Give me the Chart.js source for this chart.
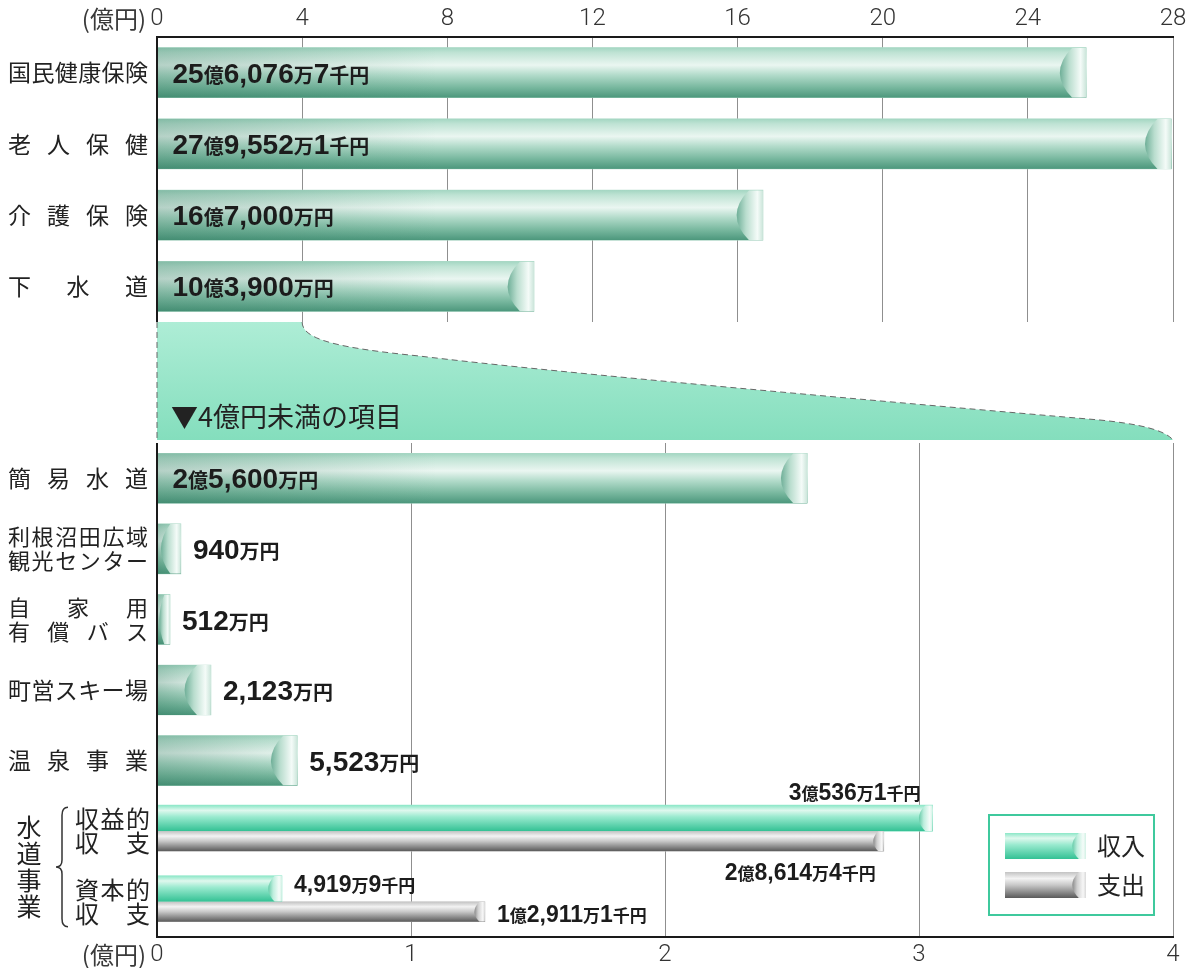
<!DOCTYPE html>
<html lang="ja">
<head>
<meta charset="utf-8">
<title>特別会計の決算額</title>
<script src="https://cdn.jsdelivr.net/npm/chart.js@4.4.1/dist/chart.umd.min.js"></script>
<style>
  html, body { margin: 0; padding: 0; background: #fff; }
  #wrap { position: relative; width: 1195px; height: 968px; }
  #topBox { position: absolute; left: 0; top: 0; width: 1195px; height: 322px; }
  #subBox { position: absolute; left: 0; top: 322px; width: 1195px; height: 646px; }
</style>
</head>
<body>
<div id="wrap">
  <div id="topBox"><canvas id="topChart"></canvas></div>
  <div id="subBox"><canvas id="subChart"></canvas></div>
</div>
<script>
// upper panel (億円)
var topCategories = [['国民健康保険'], ['老人保健'], ['介護保険'], ['下水道']];
var topValues = [25.60767, 27.95521, 16.7, 10.39];
var topValueLabels = ['25億6,076万7千円', '27億9,552万1千円', '16億7,000万円', '10億3,900万円'];
var topTicks = [0, 4, 8, 12, 16, 20, 24, 28];

// lower panel: items under 4億円
var subCategories = [['簡易水道'], ['利根沼田広域', '観光センター'], ['自家用', '有償バス'], ['町営スキー場'], ['温泉事業'], ['収益的', '収支'], ['資本的', '収支']];
var subValues = [2.56, 0.094, 0.0512, 0.2123, 0.5523, null, null];
var subValueLabels = ['2億5,600万円', '940万円', '512万円', '2,123万円', '5,523万円', null, null];
var incomeValues = [null, null, null, null, null, 3.05361, 0.491999];
var incomeLabels = [null, null, null, null, null, '3億536万1千円', '4,919万9千円'];
var expenseValues = [null, null, null, null, null, 2.86144, 1.29111];
var expenseLabels = [null, null, null, null, null, '2億8,614万4千円', '1億2,911万1千円'];
var subTicks = [0, 1, 2, 3, 4];
var groupRows = [5, 6];
var groupTitle = '水道事業';
var seriesNames = ['収入', '支出'];
var subTitle = '▼4億円未満の項目';
var unitText = '(億円)';

var JP = '"Noto Sans CJK JP", "Noto Sans", sans-serif';
var NUM = '"Liberation Sans", Arial, sans-serif';

var palettes = {
  green: {
    body: [[0, '#a3d6c2'], [0.1, '#bfe3d4'], [0.35, '#eaf6f1'], [0.55, '#b2dbca'], [0.8, '#77b79e'], [1, '#4c977c']],
    shade: [45, 115, 90, 0.28],
    cap: ['#4a987d', '#b9ddce', '#f4fbf8', '#cbe5da']
  },
  mint: {
    body: [[0, '#8be7c7'], [0.2, '#dff8ee'], [0.45, '#9aeacf'], [1, '#33c194']],
    shade: null,
    cap: ['#3cb98e', '#bdeedd', '#f5fcf9', '#d2f1e5']
  },
  gray: {
    body: [[0, '#c3c3c3'], [0.25, '#f3f3f3'], [0.5, '#c8c8c8'], [1, '#5a5a5a']],
    shade: null,
    cap: ['#686868', '#cfcfcf', '#f7f7f7', '#d9d9d9']
  }
};

function paintBar(ctx, x0, x1, yT, yB, pal) {
  var w = x1 - x0, h = yB - yT;
  if (!(w > 0)) return;
  ctx.save();
  var g = ctx.createLinearGradient(0, yT, 0, yB);
  pal.body.forEach(function (s) { g.addColorStop(s[0], s[1]); });
  ctx.fillStyle = g;
  ctx.fillRect(x0, yT, w, h);
  if (pal.shade) {
    var sw = Math.min(w, 280), c = pal.shade;
    var hg = ctx.createLinearGradient(x0, 0, x0 + sw, 0);
    hg.addColorStop(0, 'rgba(' + c[0] + ',' + c[1] + ',' + c[2] + ',' + c[3] + ')');
    hg.addColorStop(1, 'rgba(' + c[0] + ',' + c[1] + ',' + c[2] + ',0)');
    ctx.fillStyle = hg;
    ctx.fillRect(x0, yT, sw, h);
  }
  // end cap of the tube
  var cw = Math.min(h * 0.62, w);
  var xa = x1 - cw;
  ctx.beginPath();
  ctx.rect(x0, yT, w, h);
  ctx.clip();
  ctx.beginPath();
  ctx.moveTo(x1, yT);
  ctx.lineTo(xa + cw * 0.55, yT);
  ctx.quadraticCurveTo(xa - cw * 0.25, (yT + yB) / 2, xa + cw * 0.55, yB);
  ctx.lineTo(x1, yB);
  ctx.closePath();
  var cg = ctx.createLinearGradient(xa, 0, x1, 0);
  cg.addColorStop(0, pal.cap[0]);
  cg.addColorStop(0.45, pal.cap[1]);
  cg.addColorStop(0.82, pal.cap[2]);
  cg.addColorStop(1, pal.cap[3]);
  ctx.fillStyle = cg;
  ctx.fill();
  ctx.restore();
}

function amountWidth(ctx, text, big, small) {
  var runs = text.match(/[0-9,]+|[^0-9,]+/g), total = 0;
  runs.forEach(function (r) {
    ctx.font = /[0-9,]/.test(r[0]) ? 'bold ' + big + 'px ' + NUM : 'bold ' + small + 'px ' + JP;
    total += ctx.measureText(r).width;
  });
  return total;
}

function drawAmount(ctx, text, x, y, align, big, small) {
  var runs = text.match(/[0-9,]+|[^0-9,]+/g);
  var total = amountWidth(ctx, text, big, small);
  var cx = align === 'right' ? x - total : x;
  ctx.save();
  ctx.fillStyle = '#1c1c1c';
  ctx.textAlign = 'left';
  ctx.textBaseline = 'alphabetic';
  var base = y + big * 0.36;
  runs.forEach(function (r) {
    ctx.font = /[0-9,]/.test(r[0]) ? 'bold ' + big + 'px ' + NUM : 'bold ' + small + 'px ' + JP;
    ctx.fillText(r, cx, base);
    cx += ctx.measureText(r).width;
  });
  ctx.restore();
}

function justify(ctx, text, x0, x1, y) {
  var chars = Array.from(text);
  var ws = chars.map(function (c) { return ctx.measureText(c).width; });
  var total = ws.reduce(function (a, b) { return a + b; }, 0);
  if (chars.length === 1) { ctx.fillText(text, x1 - total, y); return; }
  var gap = (x1 - x0 - total) / (chars.length - 1);
  var x = x0;
  chars.forEach(function (c, i) { ctx.fillText(c, x, y); x += ws[i] + gap; });
}

function drawCategoryLabels(chart, cats) {
  var ctx = chart.ctx, ys = chart.scales.y;
  ctx.save();
  ctx.fillStyle = '#222';
  ctx.textAlign = 'left';
  ctx.textBaseline = 'middle';
  cats.forEach(function (lines, i) {
    var yc = ys.getPixelForValue(i);
    var inGroup = groupRows.indexOf(i) >= 0 && cats === subCategories;
    var x0 = inGroup ? 75 : 8, x1 = inGroup ? 150 : 148;
    var size = inGroup ? 24 : (lines.length > 1 ? 22 : 23);
    ctx.font = size + 'px ' + JP;
    lines.forEach(function (line, k) {
      var y = yc + (k - (lines.length - 1) / 2) * 24;
      justify(ctx, line, x0, x1, y);
    });
  });
  ctx.restore();
}

function drawAxisFrame(chart, top, bottom) {
  var ctx = chart.ctx, a = chart.chartArea;
  ctx.save();
  ctx.strokeStyle = '#1a1a1a';
  ctx.lineWidth = 2;
  ctx.beginPath();
  ctx.moveTo(a.left, top);
  ctx.lineTo(a.left, bottom);
  ctx.stroke();
  ctx.restore();
}

function drawUnit(chart, y) {
  var ctx = chart.ctx;
  ctx.save();
  ctx.fillStyle = '#3a3a3a';
  ctx.font = '24px ' + JP;
  ctx.textAlign = 'right';
  ctx.textBaseline = 'middle';
  ctx.fillText(unitText, chart.chartArea.left - 11, y);
  ctx.restore();
}

var tickFont = { family: 'Roboto, "Liberation Sans", Arial, sans-serif', size: 24, weight: 300 };

var topPlugin = {
  id: 'topDeco',
  afterDatasetsDraw: function (chart) {
    var ctx = chart.ctx, meta = chart.getDatasetMeta(0);
    meta.data.forEach(function (el, j) {
      if (topValues[j] == null) return;
      paintBar(ctx, el.base, el.x, el.y - el.height / 2, el.y + el.height / 2, palettes.green);
      drawAmount(ctx, topValueLabels[j], el.base + 15, el.y, 'left', 28, 20);
    });
  },
  afterDraw: function (chart) {
    drawAxisFrame(chart, chart.chartArea.top - 1, chart.chartArea.bottom);
    drawCategoryLabels(chart, topCategories);
    drawUnit(chart, 19);
  }
};

function funnelPath(ctx, L, R, x4, yb, withEdges) {
  var W = R - L;
  function px(f) { return L + W * f; }
  ctx.beginPath();
  if (withEdges) { ctx.moveTo(L, 0); ctx.lineTo(x4, 0); } else { ctx.moveTo(x4, 0); }
  ctx.bezierCurveTo(x4, 18, px(0.18), 26, px(0.258), 34);
  ctx.bezierCurveTo(px(0.396), 51, px(0.731), 81, px(0.928), 98);
  ctx.bezierCurveTo(px(0.967), 102, px(0.992), 108, R, yb);
  if (withEdges) { ctx.lineTo(L, yb); ctx.closePath(); }
}

var subPlugin = {
  id: 'subDeco',
  beforeDraw: function (chart) {
    // funnel from the 4億円 line of the upper panel into the lower panel
    var ctx = chart.ctx, a = chart.chartArea;
    var L = a.left, R = a.right;
    var x4 = L + (R - L) * (topTicks[1] / topTicks[topTicks.length - 1]);
    var yb = a.top - 3;
    ctx.save();
    funnelPath(ctx, L, R, x4, yb, true);
    var g = ctx.createLinearGradient(0, 0, 0, yb);
    g.addColorStop(0, '#aeedd6');
    g.addColorStop(1, '#84debd');
    ctx.fillStyle = g;
    ctx.fill();
    ctx.strokeStyle = '#666';
    ctx.lineWidth = 1;
    ctx.setLineDash([6, 4]);
    funnelPath(ctx, L, R, x4, yb, false);
    ctx.stroke();
    ctx.beginPath();
    ctx.moveTo(L, 0);
    ctx.lineTo(L, yb);
    ctx.stroke();
    ctx.setLineDash([]);
    ctx.fillStyle = '#222';
    ctx.font = '27px ' + JP;
    ctx.textAlign = 'left';
    ctx.textBaseline = 'middle';
    ctx.fillText(subTitle, L + 14, 95);
    ctx.restore();
  },
  afterDatasetsDraw: function (chart) {
    var ctx = chart.ctx, a = chart.chartArea;
    var sets = [
      { values: subValues, labels: subValueLabels, pal: palettes.green },
      { values: incomeValues, labels: incomeLabels, pal: palettes.mint },
      { values: expenseValues, labels: expenseLabels, pal: palettes.gray }
    ];
    sets.forEach(function (s, di) {
      var meta = chart.getDatasetMeta(di);
      meta.data.forEach(function (el, j) {
        if (s.values[j] == null) return;
        paintBar(ctx, el.base, el.x, el.y - el.height / 2, el.y + el.height / 2, s.pal);
      });
    });
    sets.forEach(function (s, di) {
      var meta = chart.getDatasetMeta(di);
      meta.data.forEach(function (el, j) {
        if (s.values[j] == null || !s.labels[j]) return;
        var yT = el.y - el.height / 2, yB = el.y + el.height / 2;
        if (di === 0) {
          var w = amountWidth(ctx, s.labels[j], 28, 20);
          if (el.x - el.base > w + 40) drawAmount(ctx, s.labels[j], el.base + 15, el.y, 'left', 28, 20);
          else drawAmount(ctx, s.labels[j], el.x + 12, el.y, 'left', 28, 20);
        } else {
          var long = el.x > a.left + (a.right - a.left) * 0.6;
          if (long && di === 1) drawAmount(ctx, s.labels[j], el.x - 12, yT - 13, 'right', 23, 17);
          else if (long) drawAmount(ctx, s.labels[j], el.x - 8, yB + 21, 'right', 23, 17);
          else drawAmount(ctx, s.labels[j], el.x + 12, di === 1 ? el.y - 5 : el.y + 2, 'left', 23, 17);
        }
      });
    });
  },
  afterDraw: function (chart) {
    var ctx = chart.ctx, a = chart.chartArea, ys = chart.scales.y;
    drawAxisFrame(chart, a.top, a.bottom);
    drawCategoryLabels(chart, subCategories);
    drawUnit(chart, 633);

    // group title + brace
    var p0 = ys.getPixelForValue(groupRows[0]) - 24;
    var p1 = ys.getPixelForValue(groupRows[groupRows.length - 1]) + 25;
    var mid = (p0 + p1) / 2;
    ctx.save();
    ctx.fillStyle = '#222';
    ctx.font = '25px ' + JP;
    ctx.textAlign = 'center';
    ctx.textBaseline = 'middle';
    var chars = Array.from(groupTitle);
    chars.forEach(function (c, i) {
      ctx.fillText(c, 29, mid + (i - (chars.length - 1) / 2) * 26.5);
    });
    ctx.strokeStyle = '#333';
    ctx.lineWidth = 1.5;
    ctx.beginPath();
    ctx.moveTo(68, p0);
    ctx.quadraticCurveTo(62, p0, 62, p0 + 8);
    ctx.lineTo(62, mid - 7);
    ctx.quadraticCurveTo(62, mid, 56, mid);
    ctx.quadraticCurveTo(62, mid, 62, mid + 7);
    ctx.lineTo(62, p1 - 8);
    ctx.quadraticCurveTo(62, p1, 68, p1);
    ctx.stroke();

    // legend
    var bx = 989, by = 493, bw = 165, bh = 100;
    ctx.fillStyle = '#fff';
    ctx.fillRect(bx, by, bw, bh);
    ctx.strokeStyle = '#3fc99d';
    ctx.lineWidth = 2;
    ctx.strokeRect(bx, by, bw, bh);
    var pals = [palettes.mint, palettes.gray];
    seriesNames.forEach(function (name, i) {
      var sy = by + 18 + i * 39;
      paintBar(ctx, bx + 16, bx + 97, sy, sy + 26, pals[i]);
      ctx.fillStyle = '#222';
      ctx.font = '24px ' + JP;
      ctx.textAlign = 'left';
      ctx.textBaseline = 'middle';
      ctx.fillText(name, bx + 108, sy + 13);
    });
    ctx.restore();
  }
};

new Chart(document.getElementById('topChart'), {
  type: 'bar',
  data: {
    labels: topCategories.map(function (c) { return c.join(''); }),
    datasets: [{ data: topValues, backgroundColor: '#b2dbca', borderWidth: 0, barThickness: 50 }]
  },
  options: {
    indexAxis: 'y',
    responsive: true,
    maintainAspectRatio: false,
    animation: false,
    layout: { padding: { left: 157, right: 22, top: 0, bottom: 0 } },
    plugins: { legend: { display: false }, tooltip: { enabled: false } },
    scales: {
      x: {
        position: 'top',
        min: topTicks[0],
        max: topTicks[topTicks.length - 1],
        afterBuildTicks: function (s) { s.ticks = topTicks.map(function (v) { return { value: v }; }); },
        afterFit: function (s) { s.height = 37; },
        ticks: { color: '#333', font: tickFont, padding: 4, maxRotation: 0 },
        grid: { color: '#8f8f8f', lineWidth: 1, drawTicks: false },
        border: { color: '#1a1a1a', width: 2 }
      },
      y: { display: false }
    }
  },
  plugins: [topPlugin]
});

new Chart(document.getElementById('subChart'), {
  type: 'bar',
  data: {
    labels: subCategories.map(function (c) { return c.join(''); }),
    datasets: [
      { label: '', data: subValues, backgroundColor: '#b2dbca', borderWidth: 0, barThickness: 50, grouped: false },
      { label: seriesNames[0], data: incomeValues, backgroundColor: '#9aeacf', borderWidth: 0, barThickness: 26, skipNull: true },
      { label: seriesNames[1], data: expenseValues, backgroundColor: '#c8c8c8', borderWidth: 0, barThickness: 20, skipNull: true }
    ]
  },
  options: {
    indexAxis: 'y',
    responsive: true,
    maintainAspectRatio: false,
    animation: false,
    layout: { padding: { left: 157, right: 22, top: 121, bottom: 0 } },
    plugins: { legend: { display: false }, tooltip: { enabled: false } },
    scales: {
      x: {
        position: 'bottom',
        min: subTicks[0],
        max: subTicks[subTicks.length - 1],
        afterBuildTicks: function (s) { s.ticks = subTicks.map(function (v) { return { value: v }; }); },
        afterFit: function (s) { s.height = 31; },
        ticks: { color: '#333', font: tickFont, padding: 4, maxRotation: 0 },
        grid: { color: '#8f8f8f', lineWidth: 1, drawTicks: false },
        border: { color: '#1a1a1a', width: 2 }
      },
      y: { display: false }
    }
  },
  plugins: [subPlugin]
});
</script>
</body>
</html>
